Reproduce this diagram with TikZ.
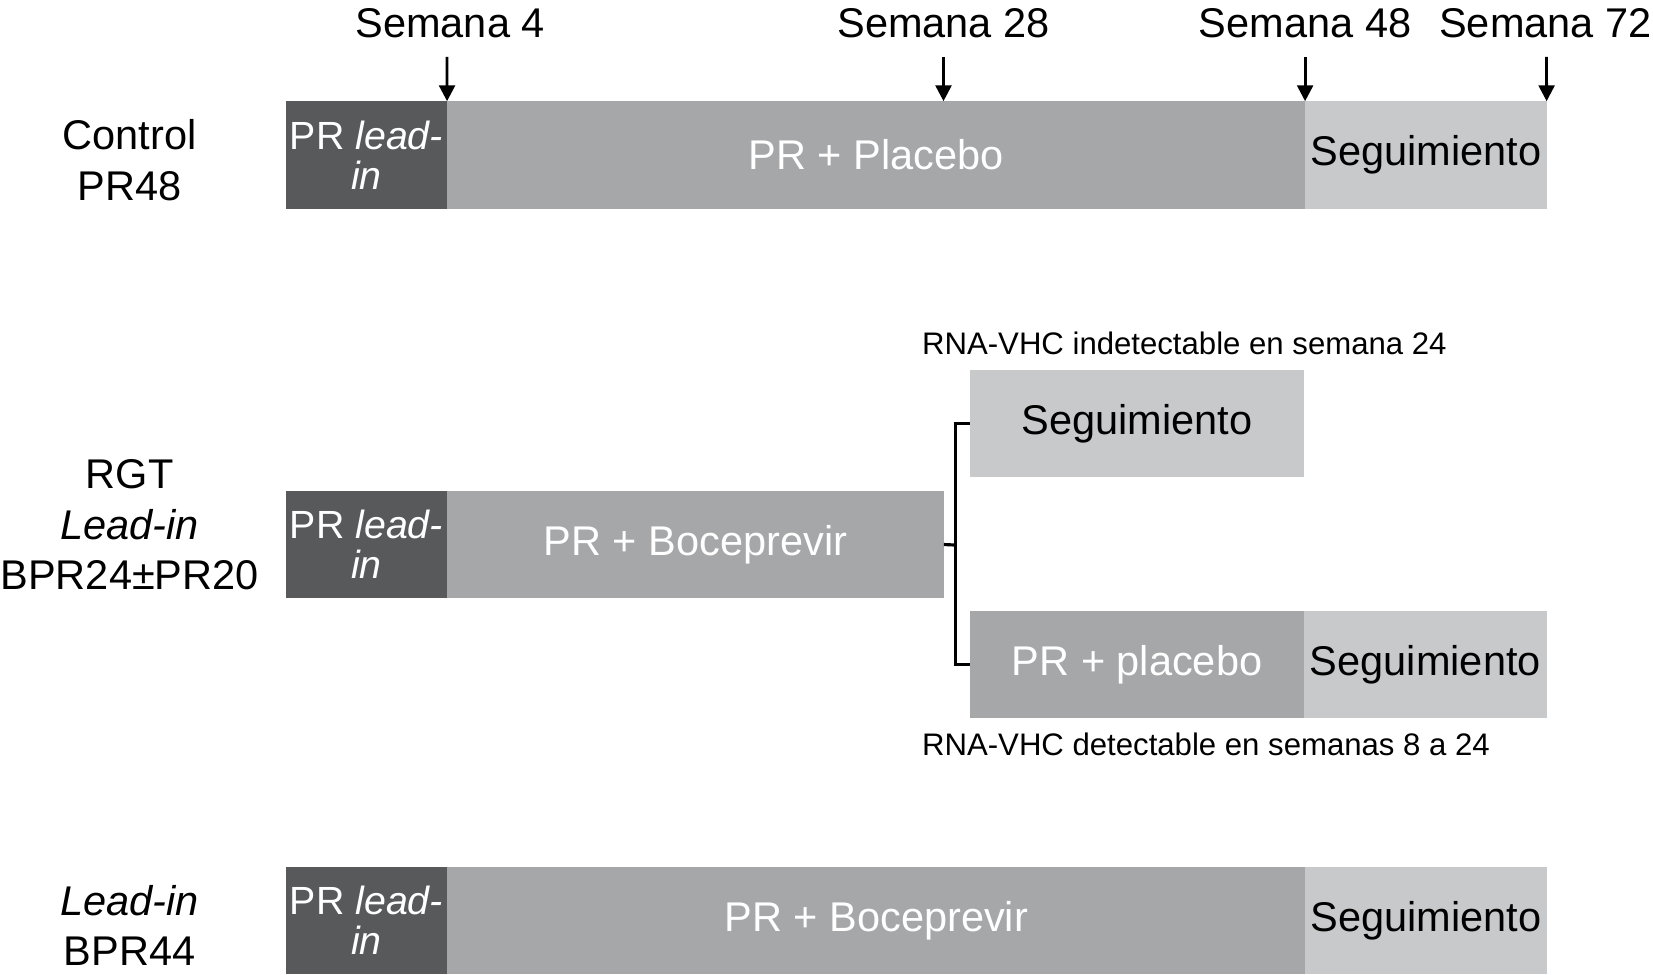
\documentclass[tikz,border=0pt]{standalone}
\usepackage{fontspec}
\setmainfont{Liberation Sans}
\usetikzlibrary{arrows.meta}
\definecolor{cdark}{HTML}{58595B}
\definecolor{cmid}{HTML}{A6A7A9}
\definecolor{clight}{HTML}{C8C9CB}
\tikzset{
  bigfont/.style={font=\fontsize{11.2}{13.7}\selectfont},
  barbox/.style={anchor=north west, inner sep=0pt, outer sep=0pt, minimum height=1.02cm, bigfont, align=center},
  leadbox/.style={barbox, fill=cdark, text=white, minimum width=1.53cm, font=\fontsize{10.6}{10.8}\selectfont},
  midbox/.style={barbox, fill=cmid, text=white},
  lightbox/.style={barbox, fill=clight, text=black},
  rowlabel/.style={align=center, font=\fontsize{11.2}{13.66}\selectfont},
  weeklabel/.style={anchor=base, bigfont},
  weekarrow/.style={line width=0.75pt, -{Triangle[length=0.15cm,width=0.15cm]}},
  bracket/.style={line width=0.85pt},
  note/.style={anchor=base west, inner sep=0pt, font=\fontsize{8.4}{10}\selectfont}
}
\begin{document}
\begin{tikzpicture}[x=0.01cm,y=-0.01cm]
\useasboundingbox (0,0) rectangle (1568,924);

% Row 1
\node[leadbox] (L1) at (271,96) {PR \textit{lead-}\\\textit{in}};
\node[midbox, minimum width=8.14cm] (P1) at (424,96) {PR + Placebo};
\node[lightbox, minimum width=2.29cm] (S1) at (1238,96) {Seguimiento};
\node[rowlabel] (R1) at (123,152) {Control\\PR48};

% week labels and arrows
\node[weeklabel] (w4) at (427,36) {Semana 4};
\node[weeklabel] (w28) at (895,36) {Semana 28};
\node[weeklabel] (w48) at (1238,36) {Semana 48};
\node[weeklabel] (w72) at (1466,36) {Semana 72};
\coordinate (a4) at (424,54);
\coordinate (a28) at (895,54);
\coordinate (a48) at (1238,54);
\coordinate (a72) at (1467,54);
\coordinate (t28) at (895,96);
\draw[weekarrow] (a4) -- (L1.north east);
\draw[weekarrow] (a28) -- (t28);
\draw[weekarrow] (a48) -- (S1.north west);
\draw[weekarrow] (a72) -- (S1.north east);

% Row 2
\node[leadbox, minimum height=1.01cm] (L2) at (271,466) {PR \textit{lead-}\\\textit{in}};
\node[midbox, minimum width=4.71cm, minimum height=1.01cm] (B2) at (424,466) {PR + Boceprevir};
\node[lightbox, minimum width=3.17cm, minimum height=1.01cm] (S2a) at (920,351) {Seguimiento};
\node[midbox, minimum width=3.17cm, minimum height=1.01cm] (P2) at (920,580) {PR + placebo};
\node[lightbox, minimum width=2.30cm, minimum height=1.01cm] (S2b) at (1237,580) {Seguimiento};
\node[rowlabel] (R2) at (123,498) {RGT\\\textit{Lead-in}\\BPR24±PR20};
\coordinate (br) at (906,517);
\draw[bracket] (B2.east) -- (br);
\draw[bracket] (S2a.west) -| (br) |- (P2.west);
\node[note] (n1) at (874,336) {RNA-VHC indetectable en semana 24};
\node[note] (n2) at (874,717) {RNA-VHC detectable en semanas 8 a 24};

% Row 3
\node[leadbox] (L3) at (271,822) {PR \textit{lead-}\\\textit{in}};
\node[midbox, minimum width=8.14cm] (B3) at (424,822) {PR + Boceprevir};
\node[lightbox, minimum width=2.29cm] (S3) at (1238,822) {Seguimiento};
\node[rowlabel] (R3) at (123,878) {\textit{Lead-in}\\BPR44};
\end{tikzpicture}
\end{document}
